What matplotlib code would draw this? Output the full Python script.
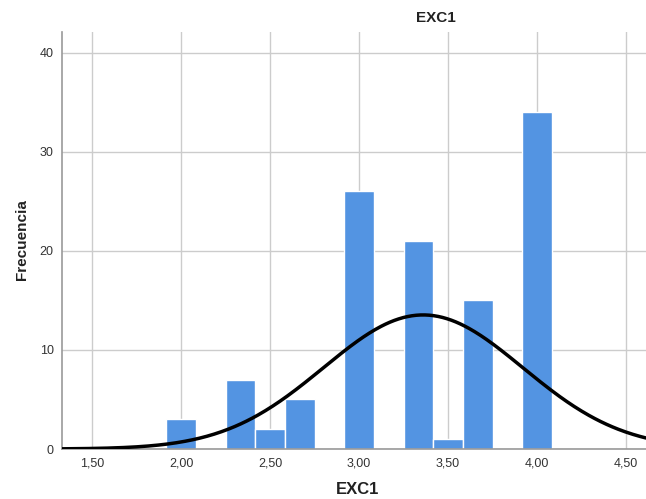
import numpy as np
import matplotlib
matplotlib.use("Agg")
import matplotlib.pyplot as plt

plt.rcParams['font.family'] = ['Liberation Sans', 'DejaVu Sans']

# Data
bin_centers = [2.00, 2.3333, 2.50, 2.6667, 3.00, 3.3333, 3.50, 3.6667, 4.00]
frequencies = [3, 7, 2, 5, 26, 21, 1, 15, 34]
bin_width = 1 / 6
x_ticks = [1.5, 2.0, 2.5, 3.0, 3.5, 4.0, 4.5]
x_tick_labels = ["1,50", "2,00", "2,50", "3,00", "3,50", "4,00", "4,50"]
y_ticks = [0, 10, 20, 30, 40]
curve_mean = 3.36
curve_sd = 0.56

fig = plt.figure(figsize=(6.46, 4.99), dpi=100)
ax = fig.add_axes([62 / 646, 50 / 499, 584 / 646, 417 / 499])

ax.set_xlim(1.331, 4.612)
ax.set_ylim(0, 42.1)

ax.grid(True, color='#cccccc', linewidth=1.0)
ax.set_axisbelow(True)

ax.bar(bin_centers, frequencies, width=bin_width, color='#5394e2',
       edgecolor='white', linewidth=1.0, zorder=2)

n_total = sum(frequencies)
xs = np.linspace(1.331, 4.612, 400)
ys = n_total * bin_width / (curve_sd * np.sqrt(2 * np.pi)) * np.exp(-0.5 * ((xs - curve_mean) / curve_sd) ** 2)
ax.plot(xs, ys, color='black', linewidth=2.5, zorder=3, solid_capstyle='round')

ax.set_xticks(x_ticks)
ax.set_xticklabels(x_tick_labels)
ax.set_yticks(y_ticks)
ax.tick_params(axis='both', length=0, labelsize=9, colors='#333333', pad=6)

for s in ['top', 'right']:
    ax.spines[s].set_visible(False)
ax.spines['left'].set_color('#999999')
ax.spines['bottom'].set_color('#999999')
ax.spines['left'].set_linewidth(1.2)
ax.spines['bottom'].set_linewidth(1.2)

fig.text(436 / 646, 1 - 18 / 499, "EXC1", ha='center', va='center',
         fontsize=11, fontweight='bold', color='#222222')
fig.text(358 / 646, 1 - 490 / 499, "EXC1", ha='center', va='center',
         fontsize=12, fontweight='bold', color='#222222')
fig.text(22 / 646, 1 - 240 / 499, "Frecuencia", ha='center', va='center',
         rotation=90, fontsize=11, fontweight='bold', color='#222222')

fig.savefig("out.png", dpi=100)
